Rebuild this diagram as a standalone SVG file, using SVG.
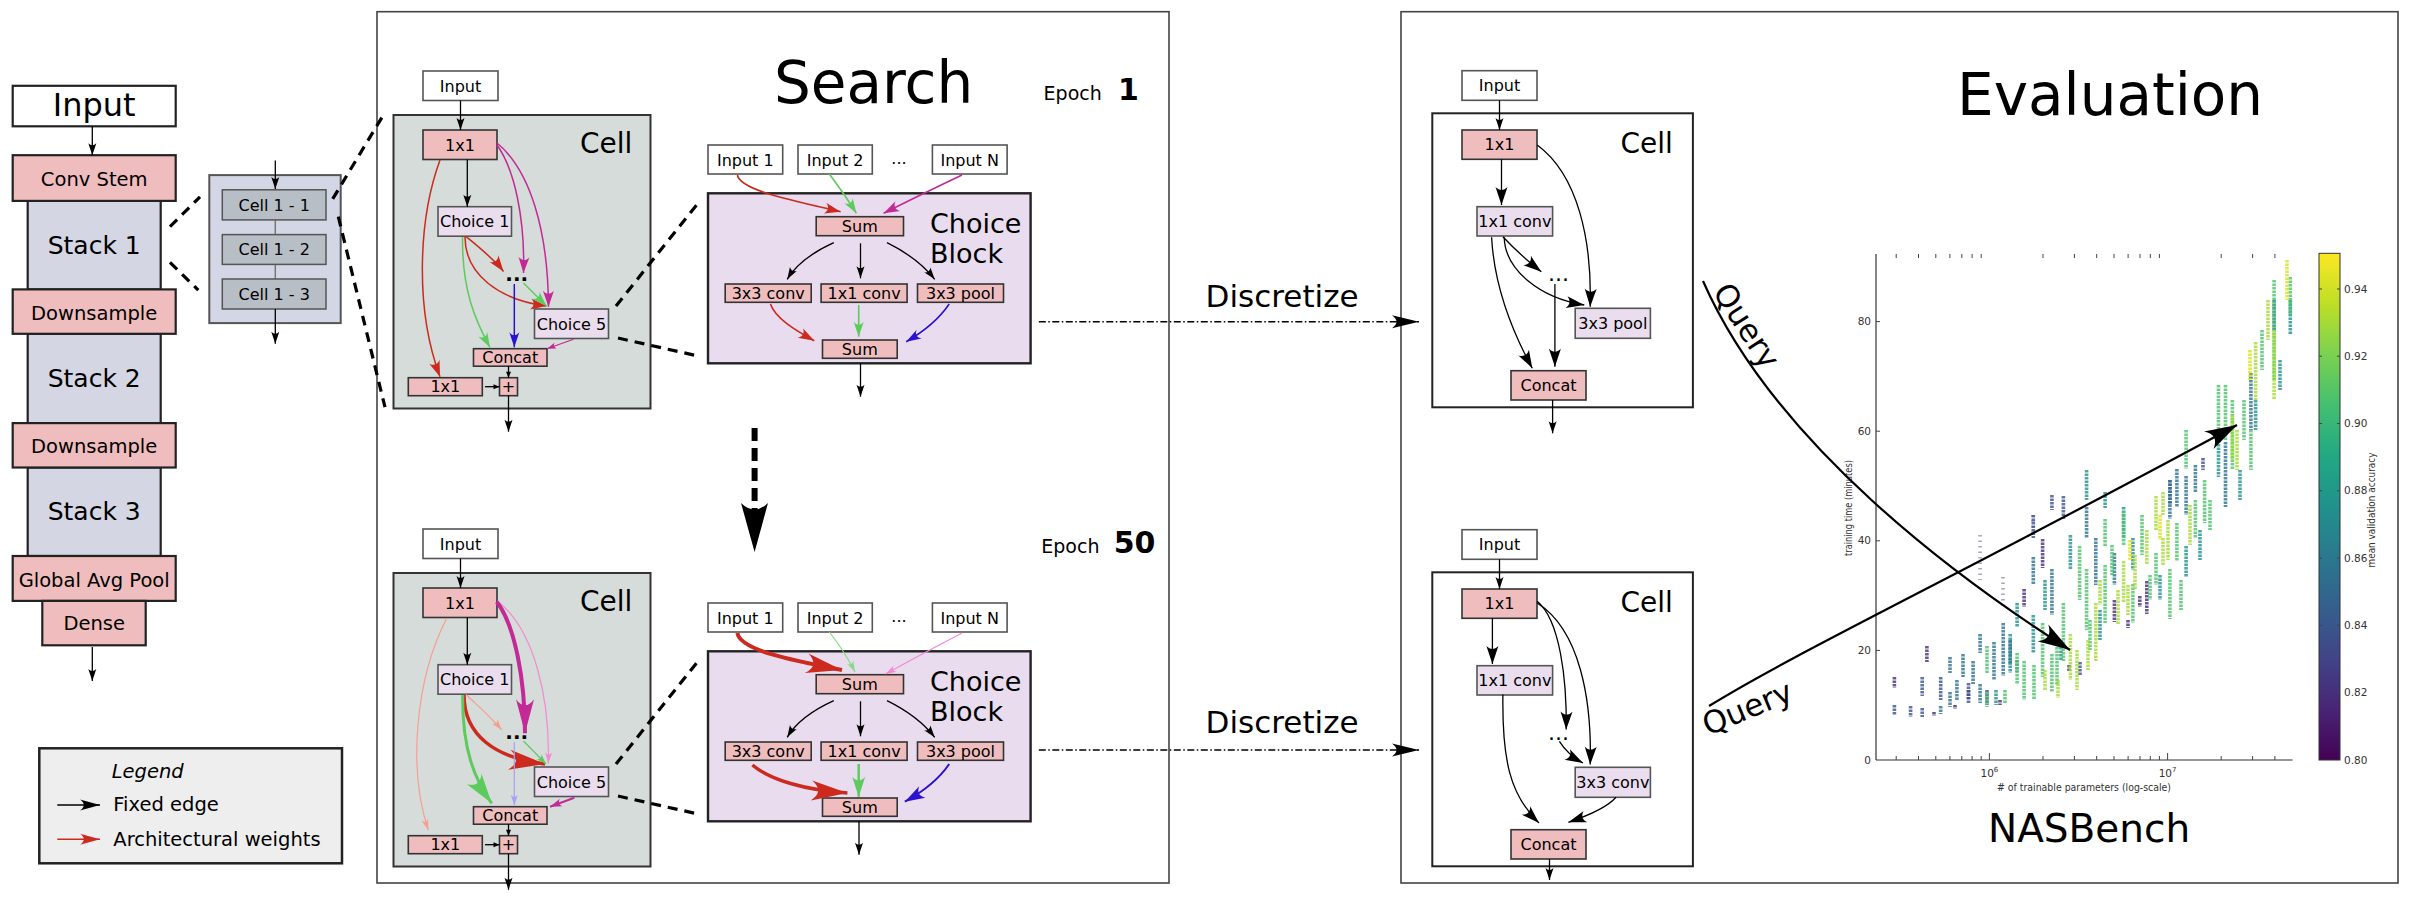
<svg xmlns="http://www.w3.org/2000/svg" width="2414" height="908" viewBox="0 0 2414 908">
<style>
text{font-family:"DejaVu Sans","Liberation Sans",sans-serif;fill:#000}
.c{text-anchor:middle}
.pk{fill:#efbdbd;stroke:#333;stroke-width:1.6}
.pkL{fill:#efbdbd;stroke:#222;stroke-width:2.2}
.st{fill:#d4d6e4;stroke:#222;stroke-width:2.2}
.wt{fill:#fff;stroke:#555;stroke-width:1.6}
.lv{fill:#e9ddee;stroke:#555;stroke-width:1.6}
.cellbg{fill:#d5dcd9;stroke:#333;stroke-width:2}
.cb{fill:#e8dcee;stroke:#222;stroke-width:2.4}
.ecell{fill:#fff;stroke:#222;stroke-width:2}
.panel{fill:#fff;stroke:#444;stroke-width:1.6}
.k{fill:none;stroke:#000;stroke-width:1.3}
.kd{fill:none;stroke:#000;stroke-width:3.2;stroke-dasharray:10 7}
.dd{fill:none;stroke:#000;stroke-width:1.5;stroke-dasharray:7 2.5 1.5 2.5}
.bt{font-size:16px}
.sc{fill:none;stroke-width:3.6;stroke-dasharray:2.6 0.9;opacity:.8}
.tk{stroke:#444;stroke-width:1}
.ax{font-size:10.5px;fill:#333}
</style>
<defs>
<marker id="aS" markerUnits="userSpaceOnUse" viewBox="-12 -4 12 8" markerWidth="12" markerHeight="8" refX="0" refY="0" orient="auto" overflow="visible"><path d="M0,0 L-12,-4 C-9.5,-1.5 -9.5,1.5 -12,4 Z" fill="#000"/></marker>
<marker id="aT" markerUnits="userSpaceOnUse" viewBox="-6 -2.5 6 5" markerWidth="6" markerHeight="5" refX="0" refY="0" orient="auto" overflow="visible"><path d="M0,0 L-6,-2.5 L-6,2.5 Z" fill="#000"/></marker>
<marker id="aM" markerUnits="userSpaceOnUse" viewBox="-18 -6 18 12" markerWidth="18" markerHeight="12" refX="0" refY="0" orient="auto" overflow="visible"><path d="M0,0 L-18,-6 C-14,-2 -14,2 -18,6 Z" fill="#000"/></marker>
<marker id="aQ" markerUnits="userSpaceOnUse" viewBox="-32 -10 32 20" markerWidth="32" markerHeight="20" refX="0" refY="0" orient="auto" overflow="visible"><path d="M0,0 L-32,-10 C-24,-3 -24,3 -32,10 Z" fill="#000"/></marker>
<marker id="aD" markerUnits="userSpaceOnUse" viewBox="-27 -6.5 27 13" markerWidth="27" markerHeight="13" refX="0" refY="0" orient="auto" overflow="visible"><path d="M0,0 L-27,-6.5 C-21,-2 -21,2 -27,6.5 Z" fill="#000"/></marker>
<marker id="aL" markerUnits="userSpaceOnUse" viewBox="-20 -5.5 20 11" markerWidth="20" markerHeight="11" refX="0" refY="0" orient="auto" overflow="visible"><path d="M0,0 L-20,-5.5 C-15,-2 -15,2 -20,5.5 Z" fill="#000"/></marker>
<marker id="rL" markerUnits="userSpaceOnUse" viewBox="-20 -5.5 20 11" markerWidth="20" markerHeight="11" refX="0" refY="0" orient="auto" overflow="visible"><path d="M0,0 L-20,-5.5 C-15,-2 -15,2 -20,5.5 Z" fill="#cc2a1e"/></marker>
<marker id="rM" markerUnits="userSpaceOnUse" viewBox="-16 -5.5 16 11" markerWidth="16" markerHeight="11" refX="0" refY="0" orient="auto" overflow="visible"><path d="M0,0 L-16,-5.5 C-12,-2 -12,2 -16,5.5 Z" fill="#cc2a1e"/></marker>
<marker id="mM" markerUnits="userSpaceOnUse" viewBox="-16 -5.5 16 11" markerWidth="16" markerHeight="11" refX="0" refY="0" orient="auto" overflow="visible"><path d="M0,0 L-16,-5.5 C-12,-2 -12,2 -16,5.5 Z" fill="#c42a96"/></marker>
<marker id="gM" markerUnits="userSpaceOnUse" viewBox="-15 -5 15 10" markerWidth="15" markerHeight="10" refX="0" refY="0" orient="auto" overflow="visible"><path d="M0,0 L-15,-5 C-11,-2 -11,2 -15,5 Z" fill="#5ccb5c"/></marker>
<marker id="bM" markerUnits="userSpaceOnUse" viewBox="-15 -5 15 10" markerWidth="15" markerHeight="10" refX="0" refY="0" orient="auto" overflow="visible"><path d="M0,0 L-15,-5 C-11,-2 -11,2 -15,5 Z" fill="#2b12d0"/></marker>
<marker id="mS" markerUnits="userSpaceOnUse" viewBox="-9 -3 9 6" markerWidth="9" markerHeight="6" refX="0" refY="0" orient="auto" overflow="visible"><path d="M0,0 L-9,-3 C-7,-1 -7,1 -9,3 Z" fill="#c42a96"/></marker>
<marker id="sS" markerUnits="userSpaceOnUse" viewBox="-11 -3.5 11 7" markerWidth="11" markerHeight="7" refX="0" refY="0" orient="auto" overflow="visible"><path d="M0,0 L-11,-3.5 C-8,-1 -8,1 -11,3.5 Z" fill="#f4a090"/></marker>
<marker id="pS" markerUnits="userSpaceOnUse" viewBox="-11 -3.5 11 7" markerWidth="11" markerHeight="7" refX="0" refY="0" orient="auto" overflow="visible"><path d="M0,0 L-11,-3.5 C-8,-1 -8,1 -11,3.5 Z" fill="#f48ad0"/></marker>
<marker id="vS" markerUnits="userSpaceOnUse" viewBox="-10 -3.5 10 7" markerWidth="10" markerHeight="7" refX="0" refY="0" orient="auto" overflow="visible"><path d="M0,0 L-10,-3.5 C-7.5,-1 -7.5,1 -10,3.5 Z" fill="#a8a0f4"/></marker>
<marker id="lgS" markerUnits="userSpaceOnUse" viewBox="-11 -3.5 11 7" markerWidth="11" markerHeight="7" refX="0" refY="0" orient="auto" overflow="visible"><path d="M0,0 L-11,-3.5 C-8,-1 -8,1 -11,3.5 Z" fill="#86dc86"/></marker>
<marker id="rB" markerUnits="userSpaceOnUse" viewBox="-36 -10 36 20" markerWidth="36" markerHeight="20" refX="0" refY="0" orient="auto" overflow="visible"><path d="M0,0 L-36,-10 C-27,-3 -27,3 -36,10 Z" fill="#cc2a1e"/></marker>
<marker id="mB" markerUnits="userSpaceOnUse" viewBox="-34 -9 34 18" markerWidth="34" markerHeight="18" refX="0" refY="0" orient="auto" overflow="visible"><path d="M0,0 L-34,-9 C-26,-3 -26,3 -34,9 Z" fill="#c42a96"/></marker>
<marker id="gB" markerUnits="userSpaceOnUse" viewBox="-30 -9 30 18" markerWidth="30" markerHeight="18" refX="0" refY="0" orient="auto" overflow="visible"><path d="M0,0 L-30,-9 C-23,-3 -23,3 -30,9 Z" fill="#5ccb5c"/></marker>
<marker id="gM2" markerUnits="userSpaceOnUse" viewBox="-20 -6.5 20 13" markerWidth="20" markerHeight="13" refX="0" refY="0" orient="auto" overflow="visible"><path d="M0,0 L-20,-6.5 C-15,-2 -15,2 -20,6.5 Z" fill="#5ccb5c"/></marker>
<marker id="bM2" markerUnits="userSpaceOnUse" viewBox="-20 -6.5 20 13" markerWidth="20" markerHeight="13" refX="0" refY="0" orient="auto" overflow="visible"><path d="M0,0 L-20,-6.5 C-15,-2 -15,2 -20,6.5 Z" fill="#2b12d0"/></marker>
<marker id="mM2" markerUnits="userSpaceOnUse" viewBox="-12 -4 12 8" markerWidth="12" markerHeight="8" refX="0" refY="0" orient="auto" overflow="visible"><path d="M0,0 L-12,-4 C-9,-1.5 -9,1.5 -12,4 Z" fill="#c42a96"/></marker>
<marker id="gS" markerUnits="userSpaceOnUse" viewBox="-10 -3.5 10 7" markerWidth="10" markerHeight="7" refX="0" refY="0" orient="auto" overflow="visible"><path d="M0,0 L-10,-3.5 C-7.5,-1 -7.5,1 -10,3.5 Z" fill="#5ccb5c"/></marker>
<linearGradient id="vir" x1="0" y1="0" x2="0" y2="1">
<stop offset="0" stop-color="#fde725"/><stop offset="0.1" stop-color="#bddf26"/><stop offset="0.2" stop-color="#7ad151"/><stop offset="0.3" stop-color="#44bf70"/><stop offset="0.4" stop-color="#22a884"/><stop offset="0.5" stop-color="#21918c"/><stop offset="0.6" stop-color="#2a788e"/><stop offset="0.7" stop-color="#355f8d"/><stop offset="0.8" stop-color="#414487"/><stop offset="0.9" stop-color="#482475"/><stop offset="1" stop-color="#440154"/>
</linearGradient>
</defs>
<rect x="0" y="0" width="2414" height="908" fill="#fff"/>

<!-- Panels -->
<g id="search-panel"><rect class="panel" x="377" y="11.7" width="792" height="871.3"/>
<text x="774" y="103.3" font-size="58">Search</text>
<text x="1043.6" y="100" font-size="19">Epoch</text><text x="1118" y="100" font-size="30" font-weight="bold">1</text>
<text x="1041.3" y="553.3" font-size="19">Epoch</text><text x="1113.7" y="553.3" font-size="30" font-weight="bold">50</text>
</g>
<g id="eval-panel"><rect class="panel" x="1401" y="11.7" width="997" height="871.3"/>
<text x="1957" y="115" font-size="58">Evaluation</text>
<text x="1988" y="842" font-size="39">NASBench</text>
</g>

<!-- Left network -->
<g id="stack1"><rect class="st" x="27.7" y="200.9" width="133" height="88.5"/><text class="c" x="94.2" y="253.7" font-size="25">Stack 1</text></g>
<g id="stack2"><rect class="st" x="27.7" y="333.8" width="133" height="89.3"/><text class="c" x="94.2" y="387.4" font-size="25">Stack 2</text></g>
<g id="stack3"><rect class="st" x="27.7" y="467.5" width="133" height="88.5"/><text class="c" x="94.2" y="520.3" font-size="25">Stack 3</text></g>
<g id="input-main"><rect x="12.7" y="85.8" width="163" height="40.5" fill="#fff" stroke="#222" stroke-width="2.2"/><text class="c" x="94.2" y="116" font-size="32">Input</text></g>
<g id="conv-stem"><rect class="pkL" x="12.7" y="155.2" width="163" height="45.7"/><text class="c" x="94.2" y="186.2" font-size="19.5">Conv Stem</text></g>
<g id="downsample1"><rect class="pkL" x="12.7" y="289.4" width="163" height="44.4"/><text class="c" x="94.2" y="320" font-size="19.5">Downsample</text></g>
<g id="downsample2"><rect class="pkL" x="12.7" y="423.1" width="163" height="44.4"/><text class="c" x="94.2" y="452.6" font-size="19.5">Downsample</text></g>
<g id="gap"><rect class="pkL" x="12.7" y="556" width="163" height="44.9"/><text class="c" x="94.2" y="587" font-size="19.5">Global Avg Pool</text></g>
<g id="dense"><rect class="pkL" x="42.3" y="600.9" width="103.4" height="44.4"/><text class="c" x="94.2" y="630.2" font-size="19.5">Dense</text></g>

<g id="cell-stack"><rect x="209.3" y="175.1" width="131.4" height="148" fill="#d3d6e4" stroke="#555" stroke-width="2"/>
<line x1="275.3" y1="219.9" x2="275.3" y2="234.6" stroke="#777" stroke-width="1.5"/><line x1="275.3" y1="264.4" x2="275.3" y2="279" stroke="#777" stroke-width="1.5"/></g>
<g id="cell11"><rect x="222.3" y="189.8" width="103.7" height="30.1" fill="#b8bec5" stroke="#555" stroke-width="1.5"/><text class="c" x="274.2" y="210.5" font-size="16">Cell 1 - 1</text></g>
<g id="cell12"><rect x="222.3" y="234.6" width="103.7" height="29.8" fill="#b8bec5" stroke="#555" stroke-width="1.5"/><text class="c" x="274.2" y="255.2" font-size="16">Cell 1 - 2</text></g>
<g id="cell13"><rect x="222.3" y="279" width="103.7" height="30" fill="#b8bec5" stroke="#555" stroke-width="1.5"/><text class="c" x="274.2" y="299.6" font-size="16">Cell 1 - 3</text></g>

<g id="legend"><rect x="39.3" y="748.3" width="302.7" height="115" fill="#eee" stroke="#222" stroke-width="2.5"/>
<text x="111.7" y="777.6" font-size="19.5" font-style="italic">Legend</text>
<line x1="57.3" y1="805" x2="100" y2="805" stroke="#000" stroke-width="1.5" marker-end="url(#aL)"/>
<text x="113.3" y="811" font-size="19.5">Fixed edge</text>
<line x1="57.3" y1="839.3" x2="100" y2="839.3" stroke="#cc2a1e" stroke-width="1.5" marker-end="url(#rL)"/>
<text x="113.3" y="846" font-size="19.5">Architectural weights</text></g>

<!-- ===== Search: epoch 1 ===== -->
<g id="s1-cell"><rect class="cellbg" x="393.5" y="115" width="257" height="293.5"/><text x="580" y="152.7" font-size="28">Cell</text></g>
<g id="s1-input"><rect class="wt" x="423" y="71" width="75" height="29.5"/><text class="c bt" x="460.5" y="91.5">Input</text></g>
<g id="s1-1x1"><rect class="pk" x="423" y="130" width="74" height="29.5"/><text class="c bt" x="460" y="150.5">1x1</text></g>
<g id="s1-choice1"><rect class="lv" x="438" y="206.7" width="73.5" height="29.5"/><text class="c bt" x="474.7" y="227.2">Choice 1</text></g>
<g id="s1-dots"><text class="c" x="516.7" y="281" font-size="20" font-weight="bold">...</text></g>
<g id="s1-choice5"><rect class="lv" x="534.5" y="309" width="74" height="29.5"/><text class="c bt" x="571.5" y="329.5">Choice 5</text></g>
<g id="s1-concat"><rect class="pk" x="473.5" y="348.7" width="73.5" height="17.5"/><text class="c bt" x="510.2" y="363">Concat</text></g>
<g id="s1-1x1b"><rect class="pk" x="408.3" y="377.7" width="74" height="18"/><text class="c bt" x="445.3" y="392.2">1x1</text></g>
<g id="s1-plus"><rect class="pk" x="499.5" y="377.7" width="18" height="18"/><text class="c bt" x="508.5" y="392.2">+</text></g>

<g id="s1-inp1"><rect class="wt" x="708" y="145" width="74.7" height="29"/><text class="c bt" x="745.3" y="165.5">Input 1</text></g>
<g id="s1-inp2"><rect class="wt" x="798" y="145" width="74.3" height="29"/><text class="c bt" x="835.1" y="165.5">Input 2</text></g>
<g id="s1-inpdots"><text class="c bt" x="899" y="164">...</text></g>
<g id="s1-inpN"><rect class="wt" x="932.4" y="145" width="74.7" height="29"/><text class="c bt" x="969.7" y="165.5">Input N</text></g>
<g id="s1-block"><rect class="cb" x="708" y="193.3" width="322.6" height="170"/><text x="930" y="233" font-size="27">Choice</text><text x="930" y="263" font-size="27">Block</text></g>
<g id="s1-sum1"><rect class="pk" x="816.2" y="216.7" width="87.3" height="19"/><text class="c bt" x="859.8" y="231.8">Sum</text></g>
<g id="s1-c33"><rect class="pk" x="725.2" y="284" width="86" height="18.3"/><text class="c bt" x="768.2" y="298.8">3x3 conv</text></g>
<g id="s1-c11"><rect class="pk" x="821.1" y="284" width="86" height="18.3"/><text class="c bt" x="864.1" y="298.8">1x1 conv</text></g>
<g id="s1-p33"><rect class="pk" x="917.5" y="284" width="86" height="18.3"/><text class="c bt" x="960.5" y="298.8">3x3 pool</text></g>
<g id="s1-sum2"><rect class="pk" x="822.5" y="340" width="74.7" height="18.3"/><text class="c bt" x="859.8" y="354.8">Sum</text></g>

<!-- ===== Search: epoch 50 ===== -->
<g id="s50-cell"><rect class="cellbg" x="393.5" y="573" width="257" height="293.5"/><text x="580" y="610.7" font-size="28">Cell</text></g>
<g id="s50-input"><rect class="wt" x="423" y="529" width="75" height="29.5"/><text class="c bt" x="460.5" y="549.5">Input</text></g>
<g id="s50-1x1"><rect class="pk" x="423" y="588" width="74" height="29.5"/><text class="c bt" x="460" y="608.5">1x1</text></g>
<g id="s50-choice1"><rect class="lv" x="438" y="664.7" width="73.5" height="29.5"/><text class="c bt" x="474.7" y="685.2">Choice 1</text></g>
<g id="s50-dots"><text class="c" x="516.7" y="739" font-size="20" font-weight="bold">...</text></g>
<g id="s50-choice5"><rect class="lv" x="534.5" y="767" width="74" height="29.5"/><text class="c bt" x="571.5" y="787.5">Choice 5</text></g>
<g id="s50-concat"><rect class="pk" x="473.5" y="806.7" width="73.5" height="17.5"/><text class="c bt" x="510.2" y="821">Concat</text></g>
<g id="s50-1x1b"><rect class="pk" x="408.3" y="835.7" width="74" height="18"/><text class="c bt" x="445.3" y="850.2">1x1</text></g>
<g id="s50-plus"><rect class="pk" x="499.5" y="835.7" width="18" height="18"/><text class="c bt" x="508.5" y="850.2">+</text></g>

<g id="s50-inp1"><rect class="wt" x="708" y="603" width="74.7" height="29"/><text class="c bt" x="745.3" y="623.5">Input 1</text></g>
<g id="s50-inp2"><rect class="wt" x="798" y="603" width="74.3" height="29"/><text class="c bt" x="835.1" y="623.5">Input 2</text></g>
<g id="s50-inpdots"><text class="c bt" x="899" y="622">...</text></g>
<g id="s50-inpN"><rect class="wt" x="932.4" y="603" width="74.7" height="29"/><text class="c bt" x="969.7" y="623.5">Input N</text></g>
<g id="s50-block"><rect class="cb" x="708" y="651.3" width="322.6" height="170"/><text x="930" y="691" font-size="27">Choice</text><text x="930" y="721" font-size="27">Block</text></g>
<g id="s50-sum1"><rect class="pk" x="816.2" y="674.7" width="87.3" height="19"/><text class="c bt" x="859.8" y="689.8">Sum</text></g>
<g id="s50-c33"><rect class="pk" x="725.2" y="742" width="86" height="18.3"/><text class="c bt" x="768.2" y="756.8">3x3 conv</text></g>
<g id="s50-c11"><rect class="pk" x="821.1" y="742" width="86" height="18.3"/><text class="c bt" x="864.1" y="756.8">1x1 conv</text></g>
<g id="s50-p33"><rect class="pk" x="917.5" y="742" width="86" height="18.3"/><text class="c bt" x="960.5" y="756.8">3x3 pool</text></g>
<g id="s50-sum2"><rect class="pk" x="822.5" y="798" width="74.7" height="18.3"/><text class="c bt" x="859.8" y="812.8">Sum</text></g>

<!-- ===== Evaluation cells ===== -->
<g id="e1-cell"><rect class="ecell" x="1432.3" y="113.3" width="260.6" height="294"/><text x="1620.5" y="152.7" font-size="28">Cell</text></g>
<g id="e1-input"><rect class="wt" x="1462" y="70.7" width="75" height="29.6"/><text class="c bt" x="1499.5" y="91.2">Input</text></g>
<g id="e1-1x1"><rect class="pk" x="1462" y="130" width="75" height="29.3"/><text class="c bt" x="1499.5" y="150.4">1x1</text></g>
<g id="e1-conv"><rect class="lv" x="1477" y="206.7" width="75.6" height="29.3"/><text class="c bt" x="1514.8" y="227.1">1x1 conv</text></g>
<g id="e1-dots"><text class="c" x="1558.5" y="281" font-size="22">...</text></g>
<g id="e1-pool"><rect class="lv" x="1575.2" y="308.3" width="75.2" height="30"/><text class="c bt" x="1612.8" y="329">3x3 pool</text></g>
<g id="e1-concat"><rect class="pk" x="1511" y="370.7" width="75" height="29.3"/><text class="c bt" x="1548.5" y="391">Concat</text></g>

<g id="e50-cell"><rect class="ecell" x="1432.3" y="572.3" width="260.6" height="294"/><text x="1620.5" y="611.7" font-size="28">Cell</text></g>
<g id="e50-input"><rect class="wt" x="1462" y="529.7" width="75" height="29.6"/><text class="c bt" x="1499.5" y="550.2">Input</text></g>
<g id="e50-1x1"><rect class="pk" x="1462" y="589" width="75" height="29.3"/><text class="c bt" x="1499.5" y="609.4">1x1</text></g>
<g id="e50-conv"><rect class="lv" x="1477" y="665.7" width="75.6" height="29.3"/><text class="c bt" x="1514.8" y="686.1">1x1 conv</text></g>
<g id="e50-dots"><text class="c" x="1558.5" y="740" font-size="22">...</text></g>
<g id="e50-c33"><rect class="lv" x="1575.2" y="767.3" width="75.2" height="30"/><text class="c bt" x="1612.8" y="788">3x3 conv</text></g>
<g id="e50-concat"><rect class="pk" x="1511" y="829.7" width="75" height="29.3"/><text class="c bt" x="1548.5" y="850">Concat</text></g>

<!-- Texts for discretize -->
<g id="discretize-labels"><text x="1205.6" y="306.7" font-size="31">Discretize</text><text x="1205.6" y="733.3" font-size="31">Discretize</text></g>

<!-- ===== Plot ===== -->
<g id="plot">
<g id="scatter">
<path class="sc" stroke="#472c7a" d="M1894.4,677V688 M1926.9,646V662 M1968.5,690V699 M2024.1,589V607 M2042.6,539V568 M2114.4,600V622 M2139.8,596V607 M2146.8,581V614 M2000,700V705 M2069,665V672 M1934,712V716 M2128,620V628 M1955,705V709"/>
<path class="sc" stroke="#472c7a" style="stroke-dasharray:1.5 4;opacity:.45" d="M1980.1,535V580 M2003,577V607 M2033,515V535"/>
<path class="sc" stroke="#3b528b" d="M1894.4,705V715 M1910.6,706V717 M1922.2,677V696 M1922.2,708V717 M1940.7,677V700 M1968.5,683V703 M2033.3,515V538 M2063.4,496V519 M2010.2,640V665 M1987,690V705 M2051.9,495V510 M2170,480V505 M2203,458V470 M2080,662V675"/>
<path class="sc" stroke="#2c728e" d="M1950,657V673 M1950,692V707 M1956.9,680V700 M1963,654V677 M1973.1,661V684 M1980.1,634V653 M1980.1,684V703 M1994,642V680 M2003.2,623V676 M2033.3,557V584 M2051.9,569V615 M2086.6,507V538 M2095.8,538V585 M2114.4,553V585 M2169.9,480V519 M2176.9,469V507 M2186.1,476V515 M2195.4,465V492 M2225.5,442V507 M2250.9,373V430 M2274.1,300V330 M1940.7,706V714 M2017,660V672"/>
<path class="sc" stroke="#21918c" d="M2010.2,634V673 M2017.1,603V627 M2033.3,615V653 M2070.4,535V570 M2086.6,470V500 M2105.1,492V508 M2123.6,507V538 M2132.9,538V570 M2186.1,546V577 M2218.5,430V477 M2255.6,400V430 M2290.3,300V335 M2061,640V660 M2045,580V610 M2100,610V640 M2160,575V600 M2200,530V560 M2240,470V500 M2280,360V390 M1996,690V705"/>
<path class="sc" stroke="#4cc26c" d="M1987,646V673 M1987,692V707 M2017.1,653V684 M2024.1,661V700 M2042.6,623V677 M2051.9,654V692 M2063.4,603V661 M2079.6,546V600 M2086.6,569V630 M2105.1,519V546 M2105.1,565V623 M2123.6,511V546 M2132.9,584V623 M2156,553V585 M2169.9,569V619 M2176.9,523V561 M2186.1,430V469 M2195.4,500V538 M2204.6,480V523 M2218.5,385V430 M2225.5,385V440 M2232.4,400V469 M2250.9,430V470 M2274.1,280V380 M2290.3,277V315 M2005,690V703 M2034,665V700 M2057,640V685 M2090,620V650 M2112,545V575 M2142,515V555 M2150,575V600 M2181,580V610 M2210,500V530 M2244,400V440 M2262,330V370"/>
<path class="sc" stroke="#a5db36" d="M2070.4,634V680 M2095.8,603V661 M2118,590V625 M2123.6,561V603 M2146.8,530V565 M2156,496V530 M2163,492V515 M2163,538V565 M2232.4,415V460 M2255.6,342V400 M2274.1,330V400 M2077,650V690 M2088,640V670 M2100,580V605 M2135,555V590 M2128,585V615 M2168,520V560 M2190,505V545 M2237,430V470 M2268,300V340 M2045,670V690 M2058,680V698"/>
<path class="sc" stroke="#d8e219" d="M2130,540V560 M2160,515V540 M2250,350V380 M2287,260V300"/>
</g>
<line x1="1876" y1="254" x2="1876" y2="760" stroke="#333" stroke-width="1.2"/>
<line x1="1876" y1="760" x2="2292.6" y2="760" stroke="#333" stroke-width="1.2"/>
<path class="tk" d="M1876,650.4h4 M1876,540.8h4 M1876,431.2h4 M1876,321.6h4 M1989.4,760v-7 M2167.6,760v-7 M1896.2,760v-4 M1918.5,760v-4 M1935.8,760v-4 M1949.9,760v-4 M1961.8,760v-4 M1972.1,760v-4 M1981.2,760v-4 M2043,760v-4 M2074.4,760v-4 M2096.7,760v-4 M2114,760v-4 M2128.1,760v-4 M2140,760v-4 M2150.3,760v-4 M2159.4,760v-4 M2221.2,760v-4 M2252.6,760v-4 M2274.9,760v-4 M1896.2,254v4 M1918.5,254v4 M1935.8,254v4 M1949.9,254v4 M1961.8,254v4 M1972.1,254v4 M1981.2,254v4 M2043,254v4 M2074.4,254v4 M2096.7,254v4 M2114,254v4 M2128.1,254v4 M2140,254v4 M2150.3,254v4 M2159.4,254v4 M2221.2,254v4 M2252.6,254v4 M2274.9,254v4"/>
<text class="ax" x="1871" y="763.5" text-anchor="end">0</text>
<text class="ax" x="1871" y="654" text-anchor="end">20</text>
<text class="ax" x="1871" y="544.3" text-anchor="end">40</text>
<text class="ax" x="1871" y="434.7" text-anchor="end">60</text>
<text class="ax" x="1871" y="325.1" text-anchor="end">80</text>
<text class="ax c" x="1989.4" y="777">10<tspan dy="-5" font-size="7">6</tspan></text>
<text class="ax c" x="2167.6" y="777">10<tspan dy="-5" font-size="7">7</tspan></text>
<text class="ax c" x="2084" y="791" textLength="174" lengthAdjust="spacingAndGlyphs"># of trainable parameters (log-scale)</text>
<text class="ax c" transform="translate(1852,508) rotate(-90)" textLength="96" lengthAdjust="spacingAndGlyphs">training time (minutes)</text>
<rect x="2319" y="253.3" width="21" height="506.7" fill="url(#vir)" stroke="#333" stroke-width="1"/>
<path class="tk" d="M2319,289h3 M2337,289h3 M2319,356.2h3 M2337,356.2h3 M2319,423.5h3 M2337,423.5h3 M2319,490.8h3 M2337,490.8h3 M2319,558.1h3 M2337,558.1h3 M2319,625.4h3 M2337,625.4h3 M2319,692.7h3 M2337,692.7h3"/>
<text class="ax" x="2344" y="292.5">0.94</text>
<text class="ax" x="2344" y="359.7">0.92</text>
<text class="ax" x="2344" y="427">0.90</text>
<text class="ax" x="2344" y="494.3">0.88</text>
<text class="ax" x="2344" y="561.6">0.86</text>
<text class="ax" x="2344" y="628.9">0.84</text>
<text class="ax" x="2344" y="696.2">0.82</text>
<text class="ax" x="2344" y="763.5">0.80</text>
<text class="ax c" transform="translate(2375,510) rotate(-90)" textLength="115" lengthAdjust="spacingAndGlyphs">mean validation accuracy</text>
</g>

<g id="query-labels">
<text transform="translate(1712,292) rotate(57)" font-size="31">Query</text>
<text transform="translate(1708,736) rotate(-22.7)" font-size="31">Query</text>
</g>

<!-- ===== Connectors ===== -->
<g id="connectors">
<line class="k" x1="92.3" y1="126.3" x2="92.3" y2="155.2" marker-end="url(#aS)"/>
<line class="k" x1="92.3" y1="647" x2="92.3" y2="681" marker-end="url(#aS)"/>
<line class="k" x1="275.3" y1="160.4" x2="275.3" y2="189" marker-end="url(#aS)"/>
<line class="k" x1="275.3" y1="309" x2="275.3" y2="343.7" marker-end="url(#aS)"/>
<path class="kd" d="M170,226.7 L200,196.9 M170,262.4 L198.3,290.2 M332.7,198.9 L383,115.6 M338.3,216.7 L385,407.2"/>

<line class="k" x1="460.5" y1="100.5" x2="460.5" y2="130" marker-end="url(#aS)"/>
<line class="k" x1="467.3" y1="159.5" x2="467.3" y2="206.7" marker-end="url(#aS)"/>
<line class="k" x1="508.5" y1="366.2" x2="508.5" y2="377.7" marker-end="url(#aT)"/>
<line class="k" x1="485" y1="386.7" x2="499.5" y2="386.7" marker-end="url(#aT)"/>
<line class="k" x1="508.5" y1="395.7" x2="508.5" y2="431.7" marker-end="url(#aS)"/>
<path d="M440,160 C418,220 415,310 440,376.7" fill="none" stroke="#cc2a1e" stroke-width="1.5" marker-end="url(#rM)"/>
<path d="M497,145 C515,170 525,220 523.5,273" fill="none" stroke="#c42a96" stroke-width="1.5" marker-end="url(#mM)"/>
<path d="M497,143 C530,170 548,230 548.5,306.7" fill="none" stroke="#c42a96" stroke-width="1.5" marker-end="url(#mM)"/>
<path d="M466,236.5 C480,248 495,260 503.5,271.5" fill="none" stroke="#cc2a1e" stroke-width="1.5" marker-end="url(#rM)"/>
<path d="M465,237 C465,275 500,300 546.5,306" fill="none" stroke="#cc2a1e" stroke-width="1.5" marker-end="url(#rM)"/>
<path d="M462.5,237 C462,290 475,320 490,347.5" fill="none" stroke="#5ccb5c" stroke-width="1.5" marker-end="url(#gM)"/>
<path d="M514.3,284 L514.3,347.3" fill="none" stroke="#2b12d0" stroke-width="1.5" marker-end="url(#bM)"/>
<path d="M523.5,283 L546.5,306" fill="none" stroke="#5ccb5c" stroke-width="1.5" marker-end="url(#gM)"/>
<path d="M573.5,339.3 L547,348.7" fill="none" stroke="#c42a96" stroke-width="1.2" marker-end="url(#mS)"/>
<path class="k" d="M833.8,242.7 Q800,258 787.2,279.3" marker-end="url(#aS)"/>
<path class="k" d="M860.5,243.3 L860.5,278.3" marker-end="url(#aS)"/>
<path class="k" d="M887,242.7 Q918,258 934.7,279.3" marker-end="url(#aS)"/>
<line class="k" x1="860.5" y1="363.3" x2="860.5" y2="396.7" marker-end="url(#aS)"/>
<path d="M737.4,175 C740,190 790,200 840.6,211.7" fill="none" stroke="#cc2a1e" stroke-width="1.6" marker-end="url(#rM)"/>
<path d="M829.3,174 Q845,195 856.4,213.3" fill="none" stroke="#5ccb5c" stroke-width="1.6" marker-end="url(#gM)"/>
<path d="M962,175 Q920,195 883.6,213.3" fill="none" stroke="#c42a96" stroke-width="1.6" marker-end="url(#mM)"/>
<path d="M770.5,304 C775,318 795,330 814.3,340.7" fill="none" stroke="#cc2a1e" stroke-width="1.6" marker-end="url(#rM)"/>
<path d="M858.7,305 L858.7,336.7" fill="none" stroke="#5ccb5c" stroke-width="1.6" marker-end="url(#gM)"/>
<path d="M949.2,304 Q935,325 906.2,341.7" fill="none" stroke="#2b12d0" stroke-width="1.6" marker-end="url(#bM)"/>
<path class="kd" d="M616,306 L700.5,200 M618,338 L698,356"/>

<line class="k" x1="460.5" y1="558.5" x2="460.5" y2="588" marker-end="url(#aS)"/>
<line class="k" x1="467.3" y1="617.5" x2="467.3" y2="664.7" marker-end="url(#aS)"/>
<line class="k" x1="508.5" y1="824.2" x2="508.5" y2="835.7" marker-end="url(#aT)"/>
<line class="k" x1="485" y1="844.7" x2="499.5" y2="844.7" marker-end="url(#aT)"/>
<line class="k" x1="508.5" y1="853.7" x2="508.5" y2="889.7" marker-end="url(#aS)"/>
<path d="M446.7,618.3 C415,680 408,770 428.3,830" fill="none" stroke="#f4a090" stroke-width="1.2" marker-end="url(#sS)"/>
<path d="M497.3,601 C535,630 550,700 548.3,763.3" fill="none" stroke="#f48ad0" stroke-width="1.2" marker-end="url(#pS)"/>
<path d="M496.7,601.7 C515,625 525,680 525,733.3" fill="none" stroke="#c42a96" stroke-width="4" marker-end="url(#mB)"/>
<path d="M466,694.5 C478,706 492,718 501.7,730" fill="none" stroke="#f4a090" stroke-width="1.2" marker-end="url(#sS)"/>
<path d="M464,695 C464,735 495,758 545,764" fill="none" stroke="#cc2a1e" stroke-width="3.5" marker-end="url(#rB)"/>
<path d="M462.7,695 C462,750 475,780 491.7,803.3" fill="none" stroke="#5ccb5c" stroke-width="3" marker-end="url(#gB)"/>
<path d="M514.3,742 L514.3,805" fill="none" stroke="#a8a0f4" stroke-width="1.2" marker-end="url(#vS)"/>
<path d="M523.5,741 L546,764" fill="none" stroke="#5ccb5c" stroke-width="1.2" marker-end="url(#gS)"/>
<path d="M574.3,797.7 L550,806.7" fill="none" stroke="#c42a96" stroke-width="2" marker-end="url(#mM2)"/>
<path class="k" d="M833.8,700.7 Q800,716 787.2,737.3" marker-end="url(#aS)"/>
<path class="k" d="M860.5,701.3 L860.5,736.3" marker-end="url(#aS)"/>
<path class="k" d="M887,700.7 Q918,716 934.7,737.3" marker-end="url(#aS)"/>
<line class="k" x1="859" y1="821.3" x2="859" y2="854.7" marker-end="url(#aS)"/>
<path d="M737.4,633 C740,650 790,660 842,670" fill="none" stroke="#cc2a1e" stroke-width="4" marker-end="url(#rB)"/>
<path d="M829.3,632 Q845,652 855,672" fill="none" stroke="#86dc86" stroke-width="1.2" marker-end="url(#lgS)"/>
<path d="M962,633 Q920,655 885.5,674" fill="none" stroke="#f48ad0" stroke-width="1.2" marker-end="url(#pS)"/>
<path d="M752.4,765 C770,780 805,790 847.4,793" fill="none" stroke="#cc2a1e" stroke-width="3.5" marker-end="url(#rB)"/>
<path d="M858.7,764 L858.7,796.7" fill="none" stroke="#5ccb5c" stroke-width="2.5" marker-end="url(#gM2)"/>
<path d="M949.2,764 Q935,785 904.8,801.7" fill="none" stroke="#2b12d0" stroke-width="2" marker-end="url(#bM2)"/>
<path class="kd" d="M616,764 L700.5,658 M618,796 L698,814"/>

<line x1="754.6" y1="428" x2="754.6" y2="510" stroke="#000" stroke-width="6" stroke-dasharray="13 7"/>
<path d="M754.6,552 L741,503 Q754.6,516 768,503 Z" fill="#000"/>

<line class="dd" x1="1038.8" y1="321.7" x2="1419" y2="321.7" marker-end="url(#aD)"/>
<line class="dd" x1="1038.8" y1="750" x2="1419" y2="750" marker-end="url(#aD)"/>

<line class="k" x1="1499.5" y1="100.3" x2="1499.5" y2="130" marker-end="url(#aS)"/>
<line class="k" x1="1501.5" y1="159.3" x2="1501.5" y2="205" marker-end="url(#aM)"/>
<path class="k" d="M1537.2,145 C1578,175 1592,240 1590.2,306.7" marker-end="url(#aM)"/>
<path class="k" d="M1502.9,236.7 Q1520,255 1541.3,271.7" marker-end="url(#aM)"/>
<path class="k" d="M1504.2,237.3 C1505,270 1540,298 1584.3,305" marker-end="url(#aM)"/>
<path class="k" d="M1491.6,237.3 Q1495,300 1532.3,368.3" marker-end="url(#aM)"/>
<path class="k" d="M1554.9,284 L1554.9,366.7" marker-end="url(#aM)"/>
<line class="k" x1="1552.6" y1="400" x2="1552.6" y2="433.3" marker-end="url(#aS)"/>
<line class="k" x1="1499.5" y1="559.3" x2="1499.5" y2="589" marker-end="url(#aS)"/>
<line class="k" x1="1492.4" y1="618.3" x2="1492.4" y2="664" marker-end="url(#aM)"/>
<path class="k" d="M1537.2,601.3 C1560,620 1567,680 1566.2,729.6" marker-end="url(#aM)"/>
<path class="k" d="M1537.2,603 C1580,630 1592,700 1590.2,764.6" marker-end="url(#aM)"/>
<path class="k" d="M1502.9,694.6 C1502,760 1510,795 1539,823" marker-end="url(#aM)"/>
<path class="k" d="M1559.4,741.3 Q1568,755 1583,763" marker-end="url(#aM)"/>
<path class="k" d="M1616,797.3 Q1605,810 1568.4,822.3" marker-end="url(#aM)"/>
<line class="k" x1="1549.5" y1="859" x2="1549.5" y2="880" marker-end="url(#aS)"/>

<path d="M1703,281 C1775,445 1960,580 2070,650" fill="none" stroke="#000" stroke-width="2.2" marker-end="url(#aQ)"/>
<path d="M1709,706 C1800,650 1950,580 2237,425" fill="none" stroke="#000" stroke-width="2.2" marker-end="url(#aQ)"/>
</g>
</svg>
